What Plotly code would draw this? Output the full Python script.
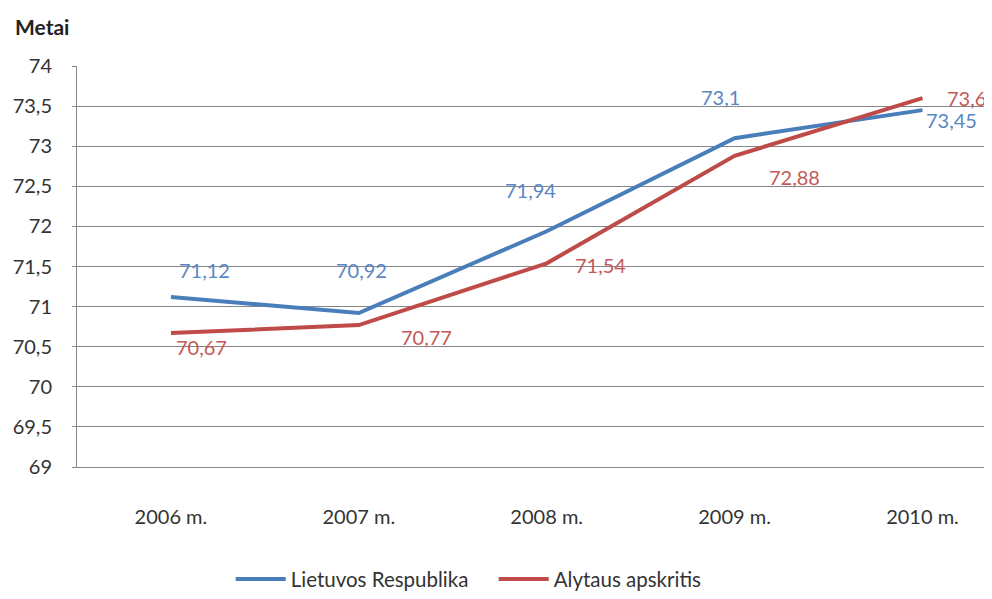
import plotly.graph_objects as go

years = ["2006 m.", "2007 m.", "2008 m.", "2009 m.", "2010 m."]
lietuva = [71.12, 70.92, 71.94, 73.10, 73.45]
alytus = [70.67, 70.77, 71.54, 72.88, 73.60]
y_ticks = [69, 69.5, 70, 70.5, 71, 71.5, 72, 72.5, 73, 73.5, 74]

BLUE = "#4a7ebb"
RED = "#be4b48"
BLUE_TXT = "#5a87c2"
RED_TXT = "#c45a57"
FONT = "Lato"

# label offsets (px) for each point, as placed in the original
blue_shift = [(34, -27), (3, -43), (-16, -41), (-14, -41), (29, 10)]
red_shift = [(31, 14), (68, 12), (54, 2), (60, 21), (44, 0)]


def fmt(v):
    return f"{v:g}".replace(".", ",")


xs = list(range(len(years)))

fig = go.Figure()
fig.add_trace(go.Scatter(
    x=xs, y=lietuva, mode="lines", name="Lietuvos Respublika",
    line=dict(color=BLUE, width=4),
))
fig.add_trace(go.Scatter(
    x=xs, y=alytus, mode="lines", name="Alytaus apskritis",
    line=dict(color=RED, width=4),
))

for series, shifts, col in [(lietuva, blue_shift, BLUE_TXT), (alytus, red_shift, RED_TXT)]:
    for x, v, (dx, dy) in zip(xs, series, shifts):
        fig.add_annotation(
            x=x, y=v, text=fmt(v), showarrow=False,
            xshift=dx, yshift=-dy,
            font=dict(family=FONT, size=20, color=col),
        )

fig.add_annotation(
    text="<b>Metai</b>", xref="paper", yref="paper", x=-0.07, y=1.0,
    yshift=40, xanchor="left", yanchor="middle", showarrow=False,
    font=dict(family=FONT, size=21, color="#222222"),
)

# page has an 8px body margin, so the figure is drawn 8px smaller
fig.update_layout(
    width=984, height=591,
    margin=dict(l=69, r=0, t=58, b=132, autoexpand=False),
    paper_bgcolor="white", plot_bgcolor="white",
    font=dict(family=FONT, size=20, color="#333333"),
    showlegend=True,
    legend=dict(
        orientation="h", x=0.168, xanchor="left", y=-0.28, yanchor="middle",
        font=dict(family=FONT, size=20.5, color="#333333"),
        entrywidth=198, entrywidthmode="pixels",
        itemwidth=50, tracegroupgap=0,
    ),
    xaxis=dict(
        range=[-0.5, 4.37], tickvals=xs, ticktext=years,
        showgrid=False, zeroline=False, automargin=False,
        showline=True, linecolor="#868686", linewidth=1,
        ticks="", ticklabelstandoff=32,
        tickfont=dict(size=20, color="#333333"),
    ),
    yaxis=dict(
        range=[69, 74], tickvals=y_ticks,
        ticktext=[fmt(t) for t in y_ticks], automargin=False,
        showgrid=True, gridcolor="#868686", gridwidth=1,
        zeroline=False, showline=True, linecolor="#868686", linewidth=1,
        ticks="outside", ticklen=4, tickcolor="#868686",
        ticklabelstandoff=16,
        tickfont=dict(size=20, color="#333333"),
    ),
)

fig.write_html("out.html")
